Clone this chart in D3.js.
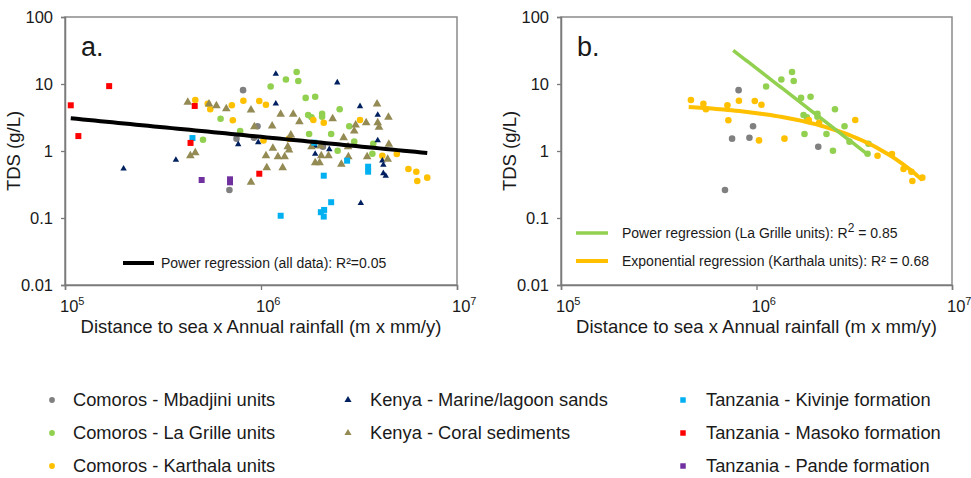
<!DOCTYPE html>
<html><head><meta charset="utf-8">
<script src="https://cdn.jsdelivr.net/npm/d3@7"></script>
<style>
body{margin:0;background:#fff}
svg{display:block}
text{font-family:"Liberation Sans",Arial,sans-serif;fill:#1a1a1a}
</style>
</head><body>
<svg id="c" width="971" height="478"></svg>
<script>
// ---------- DATA: [distance x rainfall (m x mm/y), TDS (g/L)] ----------
const mbadjini = [[8.1e5,8.1],[9.6e5,2.34],[7.5e5,1.53],[9.2e5,1.58],[2.07e6,1.16],[6.9e5,0.262]];
const laGrille = [[1.12e6,9.2],[1.34e6,11.7],[1.52e6,15.1],[1.55e6,11.1],[1.69e6,6.2],[1.89e6,6.46],[2.52e6,4.19],
  [1.74e6,3.45],[1.81e6,3.18],[2.05e6,3.6],[2.05e6,3.25],[2.82e6,2.34],[1.76e6,1.79],[2.28e6,1.79],[2.99e6,1.38],
  [2.46e6,1.01],[3.70e6,0.91],[3.74e6,1.28]];
const laGrilleOnlyA = [[6.22e5,3.03],[5.06e5,1.47],[7.83e5,1.99]];
const karthala = [[4.62e5,5.77],[5.51e5,4.19],[5.35e5,5.08],[7.1e5,4.81],[8.13e5,5.63],[9.8e5,5.58],[1.06e6,4.91],
  [7.18e5,2.87],[1.03e6,1.44],[1.39e6,1.53],[1.85e6,2.9],[2.09e6,2.64],[3.2e6,2.9],[4.16e6,0.851],[4.93e6,0.902],
  [5.65e6,0.539],[6.2e6,0.491],[6.27e6,0.357],[7.05e6,0.40]];
const kenyaMarine = [[1.99e5,0.544],[3.68e5,0.734],[7.65e5,1.26],[9.68e5,1.35],[1.19e6,14.1],[2.45e6,10.5],[1.19e6,5.08],
  [3.2e6,4.65],[3.94e6,3.45],[1.89e6,1.19],[2.23e6,1.06],[3.94e6,1.44],[1.89e6,0.902],[4.21e6,0.618],[4.21e6,0.465],
  [4.33e6,0.424],[3.23e6,0.166],[4.16e6,0.717]];
const kenyaCoral = [[4.23e5,5.33],[5.43e5,5.03],[5.92e5,4.74],[6.65e5,4.28],[8.89e5,4.09],[9.25e5,2.3],[4.36e5,0.851],
  [4.62e5,0.943],[1.06e6,0.851],[8.89e5,0.341],[1.07e6,0.563],[1.26e6,3.53],[1.46e6,3.53],[1.57e6,2.74],[2.32e6,3.03],
  [3.91e6,5.03],[4.47e6,3.18],[3.44e6,2.64],[3.94e6,2.64],[4.0e6,2.26],[1.14e6,2.36],[1.42e6,1.73],[3.04e6,2.44],
  [2.99e6,1.99],[2.64e6,1.58],[1.15e6,1.1],[1.37e6,1.16],[1.39e6,1.03],[1.81e6,1.16],[2.01e6,1.19],[2.78e6,1.16],
  [4.49e6,1.26],[1.22e6,0.822],[1.32e6,0.822],[2.03e6,0.851],[2.21e6,0.851],[2.79e6,0.822],[3.48e6,0.822],
  [1.29e6,0.563],[1.89e6,0.669],[1.99e6,0.669],[2.57e6,0.633],[4.43e6,0.752]];
const kivinje = [[4.47e5,1.56],[1.87e6,1.33],[2.75e6,0.717],[3.52e6,0.583],[3.52e6,0.491],[2.09e6,0.428],[2.28e6,0.172],
  [2.02e6,0.122],[2.1e6,0.132],[2.09e6,0.105],[1.26e6,0.108]];
const masoko = [[1.07e5,4.81],[1.68e5,9.3],[1.17e5,1.67],[4.59e5,4.7],[4.37e5,1.32],[9.8e5,0.458]];
const pande = [[4.98e5,0.369],[6.95e5,0.378],[6.95e5,0.341]];

// regressions
const powerAll = {a: 83.5, b: -0.285, from: 1.07e5, to: 7.05e6};        // y = a x^b
const powerLaGrille = {a: 6.04e14, b: -2.258, from: 7.6e5, to: 3.7e6}; // y = a x^b
const expKarthala = {a: 5.38, b: -3.807e-7, from: 4.5e5, to: 7.05e6};  // y = a e^(bx)

const seriesNames = ["Comoros - Mbadjini units","Comoros - La Grille units","Comoros - Karthala units",
  "Kenya - Marine/lagoon sands","Kenya - Coral sediments",
  "Tanzania - Kivinje formation","Tanzania - Masoko formation","Tanzania - Pande formation"];

const yTicks = [0.01,0.1,1,10,100];
const yTickLabels = ["0.01","0.1","1","10","100"];
const xTicks = [1e5,1e6,1e7];
const xTickExp = ["5","6","7"];

// ---------- STYLES ----------
const styles = {
  mbadjini:{color:"#808080",shape:d3.symbolCircle,size:34},
  laGrille:{color:"#92d050",shape:d3.symbolCircle,size:34},
  karthala:{color:"#ffc000",shape:d3.symbolCircle,size:34},
  kenyaMarine:{color:"#002060",shape:d3.symbolTriangle,size:18},
  kenyaCoral:{color:"#948a54",shape:d3.symbolTriangle,size:32},
  kivinje:{color:"#00b0f0",shape:d3.symbolSquare,size:36},
  masoko:{color:"#ff0000",shape:d3.symbolSquare,size:36},
  pande:{color:"#7030a0",shape:d3.symbolSquare,size:36}
};

const svg = d3.select("#c");
const Y0 = 285, Y1 = 17;

function makePanel(left, right, letter, titleX) {
  const x = d3.scaleLog().domain([1e5,1e7]).range([left,right]);
  const y = d3.scaleLog().domain([0.01,100]).range([Y0,Y1]);
  const g = svg.append("g");
  g.append("rect").attr("x",left).attr("y",Y1).attr("width",right-left).attr("height",Y0-Y1)
    .attr("fill","none").attr("stroke","#8a8a8a").attr("stroke-width",1.5);
  const ya = g.append("g").attr("transform",`translate(${left},0)`)
    .call(d3.axisLeft(y).tickValues(yTicks).tickFormat((d,i)=>yTickLabels[i]).tickSize(4).tickPadding(8));
  const xa = g.append("g").attr("transform",`translate(0,${Y0})`)
    .call(d3.axisBottom(x).tickValues(xTicks).tickFormat("").tickSize(5));
  [ya,xa].forEach(a=>{
    a.select(".domain").attr("stroke","#7a7a7a").attr("stroke-width",1.5);
    a.selectAll(".tick line").attr("stroke","#7a7a7a").attr("stroke-width",1.3);
  });
  ya.selectAll(".tick text").attr("font-size","16.5px").attr("fill","#1a1a1a")
    .style("font-family","'Liberation Sans',Arial,sans-serif");
  xTicks.forEach((d,i)=>{
    const t = g.append("text").attr("x",x(d)-5).attr("y",312).attr("font-size","16.5px").text("10");
    t.append("tspan").attr("dy",-7).attr("font-size","11px").text(xTickExp[i]);
  });
  g.append("text").attr("x",(left+right)/2).attr("y",333).attr("text-anchor","middle")
    .attr("font-size","18.5px").text("Distance to sea x Annual rainfall (m x mm/y)");
  g.append("text").attr("transform",`translate(${titleX},151) rotate(-90)`).attr("text-anchor","middle")
    .attr("font-size","18.5px").text("TDS (g/L)");
  g.append("text").attr("x",left+16).attr("y",56).attr("font-size","27px").text(letter);
  return {g,x,y};
}

function drawSeries(p, data, st) {
  p.g.append("g").selectAll("path").data(data).join("path")
    .attr("transform",d=>`translate(${p.x(d[0])},${p.y(d[1])})`)
    .attr("d",d3.symbol().type(st.shape).size(st.size))
    .attr("fill",st.color);
}

function curve(p, fn, from, to, color, width) {
  const lx0 = Math.log10(from), lx1 = Math.log10(to);
  const pts = d3.range(0,61).map(i=>{const xv = Math.pow(10, lx0+(lx1-lx0)*i/60); return [xv, fn(xv)];});
  p.g.append("path").datum(pts)
    .attr("d",d3.line().x(d=>p.x(d[0])).y(d=>p.y(d[1])))
    .attr("fill","none").attr("stroke",color).attr("stroke-width",width);
}

// ---------- PANEL A ----------
const pa = makePanel(65, 457, "a.", 20);
drawSeries(pa, mbadjini, styles.mbadjini);
drawSeries(pa, laGrille.concat(laGrilleOnlyA), styles.laGrille);
drawSeries(pa, karthala, styles.karthala);
drawSeries(pa, kenyaMarine, styles.kenyaMarine);
drawSeries(pa, kenyaCoral, styles.kenyaCoral);
drawSeries(pa, kivinje, styles.kivinje);
drawSeries(pa, masoko, styles.masoko);
drawSeries(pa, pande, styles.pande);
curve(pa, v=>powerAll.a*Math.pow(v,powerAll.b), powerAll.from, powerAll.to, "#000", 4);
pa.g.append("line").attr("x1",123).attr("x2",154).attr("y1",263).attr("y2",263).attr("stroke","#000").attr("stroke-width",4);
pa.g.append("text").attr("x",161).attr("y",268).attr("font-size","14px").text("Power regression (all data): R²=0.05");

// ---------- PANEL B ----------
const pb = makePanel(561, 952, "b.", 516);
drawSeries(pb, mbadjini, styles.mbadjini);
drawSeries(pb, laGrille, styles.laGrille);
drawSeries(pb, karthala, styles.karthala);
curve(pb, v=>expKarthala.a*Math.exp(expKarthala.b*v), expKarthala.from, expKarthala.to, "#ffc000", 4);
curve(pb, v=>powerLaGrille.a*Math.pow(v,powerLaGrille.b), powerLaGrille.from, powerLaGrille.to, "#92d050", 3.5);
pb.g.append("line").attr("x1",576).attr("x2",608).attr("y1",233).attr("y2",233).attr("stroke","#92d050").attr("stroke-width",3.5);
const tg = pb.g.append("text").attr("x",622).attr("y",238).attr("font-size","14px").text("Power regression (La Grille units): R");
tg.append("tspan").attr("dy",-6).attr("font-size","12px").text("2");
tg.append("tspan").attr("dy",6).text(" = 0.85");
pb.g.append("line").attr("x1",576).attr("x2",608).attr("y1",261).attr("y2",261).attr("stroke","#ffc000").attr("stroke-width",4);
pb.g.append("text").attr("x",622).attr("y",266).attr("font-size","14px").text("Exponential regression (Karthala units): R² = 0.68");

// ---------- BOTTOM LEGEND ----------
const legendKeys = ["mbadjini","laGrille","karthala","kenyaMarine","kenyaCoral","kivinje","masoko","pande"];
const colX = [[52,73],[348,370],[683,706]];
const colOf = [0,0,0,1,1,2,2,2], rowOf = [0,1,2,0,1,0,1,2];
const rowY = [400,433,466];
const lg = svg.append("g");
legendKeys.forEach((k,i)=>{
  const st = styles[k];
  const cx = colX[colOf[i]], cy = rowY[rowOf[i]];
  lg.append("path").attr("transform",`translate(${cx[0]},${cy})`)
    .attr("d",d3.symbol().type(st.shape).size(st.shape===d3.symbolSquare?30:(st.shape===d3.symbolTriangle?(k==="kenyaMarine?"?18:22):26)))
    .attr("fill",st.color);
  lg.append("text").attr("x",cx[1]).attr("y",cy).attr("dy","0.35em").attr("font-size","18.3px").text(seriesNames[i]);
});
</script>
</body></html>
